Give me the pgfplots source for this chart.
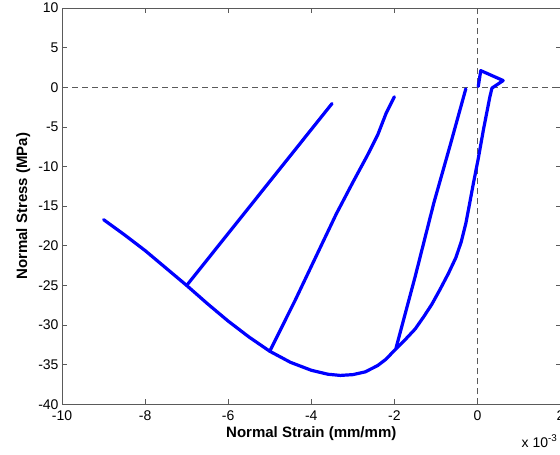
\documentclass[border=0pt]{standalone}
\usepackage{fontspec}
\setmainfont{Liberation Sans}
\usepackage{pgfplots}
\pgfplotsset{compat=1.18}
\usetikzlibrary{calc}

\definecolor{axgray}{RGB}{90,90,90}
\definecolor{mblue}{RGB}{0,0,255}

\begin{document}
\begin{tikzpicture}
\begin{axis}[
    scale only axis,
    width=498pt, height=396pt,
    xmin=-10, xmax=2,
    ymin=-40, ymax=10,
    xtick={-10,-8,...,2},
    ytick={-40,-35,...,10},
    scaled x ticks=false,
    tick align=inside,
    major tick length=5pt,
    axis line style={axgray, line width=0.8pt},
    tick style={axgray, line width=0.8pt},
    /pgf/number format/assume math mode=true,
    tick label style={font=\fontsize{14}{16}\selectfont},
    xticklabel style={yshift=-2.5pt},
    xlabel={Normal Strain (mm/mm)},
    ylabel={Normal Stress (MPa)},
    label style={font=\fontsize{15}{17}\selectfont\bfseries},
    xlabel style={at={(axis description cs:0.5,0)}, anchor=base, yshift=-33.5pt},
    ylabel style={at={(axis description cs:-0.0703,0.5)}, anchor=base},
]
\coordinate (sw) at (rel axis cs:0,0);
\coordinate (ne) at (rel axis cs:1,1);

% zero lines
\addplot[axgray, line width=0.8pt, dash pattern=on 6pt off 4pt] coordinates {(-10,0) (2,0)};
\addplot[axgray, line width=0.8pt, dash pattern=on 6pt off 4pt] coordinates {(0,-40) (0,10)};

% envelope + final reload
\addplot[mblue, line width=3.2pt, line join=round, line cap=round] coordinates {
(-9.0,-16.7) (-8.5,-18.6) (-8.0,-20.6) (-7.5,-22.8) (-7.0,-25.0) (-6.5,-27.3)
(-6.0,-29.5) (-5.5,-31.5) (-5.0,-33.3) (-4.5,-34.7) (-4.0,-35.7) (-3.6,-36.2)
(-3.3,-36.35) (-3.0,-36.25) (-2.7,-35.9) (-2.4,-35.1) (-2.2,-34.3) (-2.0,-33.2)
(-1.75,-31.9) (-1.5,-30.5) (-1.3,-29.0) (-1.1,-27.4) (-0.9,-25.5) (-0.7,-23.5)
(-0.52,-21.5) (-0.39,-19.5) (-0.28,-17.2) (-0.2,-15.0) (-0.1,-12.2) (0.02,-9.0)
(0.15,-5.2) (0.3,-1.2) (0.35,-0.1) (0.62,0.85) (0.08,2.1) (0.02,0.1)
};
% unloading branches
\addplot[mblue, line width=3.2pt, line join=round, line cap=round] coordinates {
(-7.0,-25.0) (-3.5,-2.05)
};
\addplot[mblue, line width=3.2pt, line join=round, line cap=round] coordinates {
(-5.0,-33.3) (-4.4,-27.0) (-3.9,-21.5) (-3.4,-16.0) (-3.0,-12.0) (-2.65,-8.6)
(-2.4,-6.0) (-2.2,-3.3) (-2.0,-1.2)
};
\addplot[mblue, line width=3.2pt, line join=round, line cap=round] coordinates {
(-1.96,-32.9) (-1.5,-23.9) (-1.05,-14.6) (-0.65,-7.2) (-0.28,-0.2)
};
\end{axis}

\node[anchor=base west, inner sep=0pt, font=\fontsize{14}{16}\selectfont]
  at ($(sw)+(459pt,-42.7pt)$) {x 10\textsuperscript{-3}};

\pgfresetboundingbox
\useasboundingbox ($(sw)+(-62pt,-50pt)$) rectangle ($(ne)+(-0.5pt,8pt)$);
\end{tikzpicture}
\end{document}
